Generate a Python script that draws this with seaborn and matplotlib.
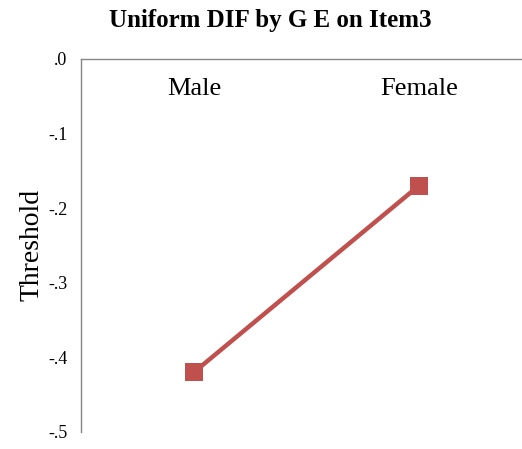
import numpy as np
import pandas as pd
import matplotlib
matplotlib.use("Agg")
import matplotlib.pyplot as plt
import seaborn as sns

# data
groups = ["Male", "Female"]
thresholds = [-0.42, -0.17]
y_ticks = [0.0, -0.1, -0.2, -0.3, -0.4, -0.5]
y_tick_labels = [".0", "-.1", "-.2", "-.3", "-.4", "-.5"]

df = pd.DataFrame({"group": groups, "threshold": thresholds})

sns.set_style("white")
plt.rcParams["font.family"] = ["Liberation Serif", "DejaVu Serif"]

fig = plt.figure(figsize=(5.22, 4.49), dpi=100)
ax = fig.add_axes([0.156, 0.038, 0.862, 0.831])

sns.lineplot(data=df, x="group", y="threshold", ax=ax, color="#C0504D",
             linewidth=3.2, marker="s", markersize=13, markeredgewidth=0)

ax.set_xlim(-0.5, 1.5)
ax.set_ylim(-0.5, 0.0)
ax.set_yticks(y_ticks)
ax.set_yticklabels(y_tick_labels, fontsize=13)
ax.tick_params(axis="y", length=0, pad=10, labelcolor="black")

# category labels sit just under the top line, inside the plot
ax.xaxis.set_ticks_position("top")
ax.set_xticks(range(len(groups)))
ax.set_xticklabels(groups, fontsize=19)
ax.tick_params(axis="x", length=0, pad=-30, labeltop=True, labelbottom=False,
               labelcolor="black")
ax.set_xlabel("")

ax.set_ylabel("Threshold", fontsize=20, labelpad=3, color="black")

for side in ["right", "bottom"]:
    ax.spines[side].set_visible(False)
for side in ["left", "top"]:
    ax.spines[side].set_color("#868686")
    ax.spines[side].set_linewidth(1)

fig.text(0.517, 0.955, "Uniform DIF by G E on Item3", ha="center", va="center",
         fontsize=18, fontweight="bold", color="black")

fig.savefig("out.png", dpi=100)
